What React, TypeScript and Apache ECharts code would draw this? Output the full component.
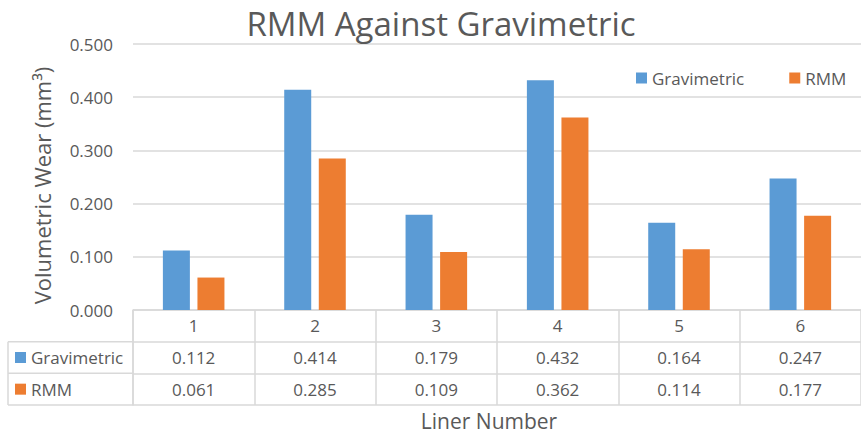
import React, { useEffect, useRef } from "react";
import * as echarts from "echarts";

const categories = ["1", "2", "3", "4", "5", "6"];
const gravimetric = [0.112, 0.414, 0.179, 0.432, 0.164, 0.247];
const rmm = [0.061, 0.285, 0.109, 0.362, 0.114, 0.177];
const seriesNames = ["Gravimetric", "RMM"];
const colors = ["#5b9bd5", "#ed7d31"];
const yMin = 0;
const yMax = 0.5;
const yInterval = 0.1;
const titleText = "RMM Against Gravimetric";
const xTitle = "Liner Number";
const yTitle = "Volumetric Wear (mm³)";

const FONT = "'Open Sans', 'DejaVu Sans', sans-serif";
const TXT = "#595959";
const LINE = "#d9d9d9";

export default function App() {
  const ref = useRef<HTMLDivElement>(null);
  useEffect(() => {
    const chart = echarts.init(ref.current!, null, { renderer: "svg" });
    const rowH = 95 / 3;
    const tableTop = 310;
    const colLeft = 8;
    const colRight = 133;
    const rows = [gravimetric, rmm];
    const graphic: any[] = [];
    graphic.push({
      type: "line",
      shape: { x1: colLeft, y1: tableTop + rowH, x2: colLeft, y2: tableTop + 3 * rowH },
      style: { stroke: LINE, lineWidth: 1.5 },
    });
    for (let r = 1; r <= 3; r++) {
      graphic.push({
        type: "line",
        shape: { x1: colLeft, y1: tableTop + r * rowH, x2: colRight, y2: tableTop + r * rowH },
        style: { stroke: LINE, lineWidth: 1.5 },
      });
    }
    seriesNames.forEach((name, i) => {
      const cy = tableTop + (i + 1.5) * rowH;
      graphic.push({
        type: "rect",
        shape: { x: 15, y: cy - 5.5, width: 11, height: 11 },
        style: { fill: colors[i] },
      });
      graphic.push({
        type: "text",
        x: 31,
        y: cy,
        style: {
          text: name,
          fontSize: 17,
          fontFamily: FONT,
          fill: TXT,
          align: "left",
          verticalAlign: "middle",
        },
      });
    });
    graphic.push({
      type: "text",
      x: 42,
      y: 185.5,
      rotation: Math.PI / 2,
      style: {
        text: yTitle,
        fontSize: 22,
        fontFamily: FONT,
        fill: TXT,
        align: "center",
        verticalAlign: "middle",
      },
    });
    graphic.push({
      type: "text",
      x: 489,
      y: 421,
      style: {
        text: xTitle,
        fontSize: 21,
        fontFamily: FONT,
        fill: TXT,
        align: "center",
        verticalAlign: "middle",
      },
    });

    chart.setOption({
      animation: false,
      textStyle: { fontFamily: FONT },
      title: {
        text: titleText,
        left: 441,
        textAlign: "center",
        top: 7,
        padding: 0,
        textStyle: { fontSize: 33, fontWeight: "normal", color: TXT, fontFamily: FONT },
      },
      legend: {
        data: seriesNames,
        left: 636,
        top: 68,
        padding: 0,
        itemWidth: 11,
        itemHeight: 11,
        itemGap: 45,
        icon: "rect",
        textStyle: { fontSize: 17, color: TXT, fontFamily: FONT, lineHeight: 20 },
      },
      grid: [
        { left: 133, right: -11, top: 44, bottom: 125 },
        { left: 133, right: -11, top: 310, bottom: 30 },
      ],
      xAxis: [
        {
          gridIndex: 0,
          type: "category",
          data: categories,
          axisLine: { show: false },
          axisTick: { show: false },
          axisLabel: {
            margin: 0,
            interval: 0,
            fontSize: 17,
            color: TXT,
            fontFamily: FONT,
            lineHeight: rowH,
            formatter: (v: string, idx: number) =>
              [v, ...rows.map((arr) => arr[idx].toFixed(3))].join("\n"),
          },
        },
        {
          gridIndex: 1,
          type: "category",
          data: categories,
          axisLine: { show: false },
          axisTick: { show: false },
          axisLabel: { show: false },
          splitLine: { show: true, lineStyle: { color: LINE, width: 1.5 } },
        },
      ],
      yAxis: [
        {
          gridIndex: 0,
          type: "value",
          min: yMin,
          max: yMax,
          interval: yInterval,
          axisLine: { show: false },
          axisTick: { show: false },
          axisLabel: {
            margin: 20,
            fontSize: 17,
            color: TXT,
            fontFamily: FONT,
            formatter: (v: number) => v.toFixed(3),
          },
          splitLine: { show: true, lineStyle: { color: LINE, width: 1.5 } },
        },
        {
          gridIndex: 1,
          type: "value",
          min: 0,
          max: 3,
          interval: 1,
          inverse: true,
          axisLine: { show: true, lineStyle: { color: LINE, width: 1.5 } },
          axisTick: { show: false },
          axisLabel: { show: false },
          splitLine: { show: true, lineStyle: { color: LINE, width: 1.5 } },
        },
      ],
      series: [
        {
          name: seriesNames[0],
          type: "bar",
          xAxisIndex: 0,
          yAxisIndex: 0,
          data: gravimetric,
          barWidth: 27,
          barGap: "28%",
          itemStyle: { color: colors[0] },
        },
        {
          name: seriesNames[1],
          type: "bar",
          xAxisIndex: 0,
          yAxisIndex: 0,
          data: rmm,
          barWidth: 27,
          barGap: "28%",
          itemStyle: { color: colors[1] },
        },
      ],
      graphic,
    });
    return () => chart.dispose();
  }, []);
  return (
    <div
      ref={ref}
      style={{ position: "fixed", left: 0, top: 0, width: 861, height: 435, background: "#fff" }}
    />
  );
}
